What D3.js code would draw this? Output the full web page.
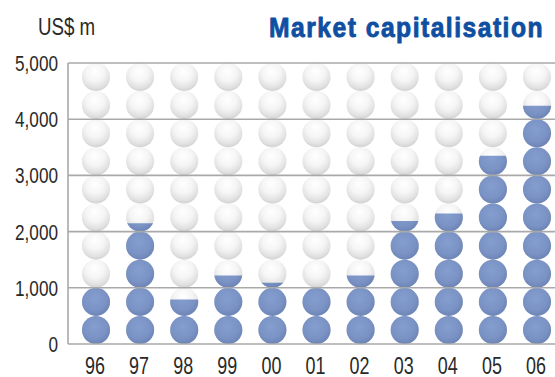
<!DOCTYPE html>
<html>
<head>
<meta charset="utf-8">
<script src="https://cdn.jsdelivr.net/npm/d3@7/dist/d3.min.js"></script>
<style>
  html, body { margin: 0; padding: 0; background: #fff; }
  svg { display: block; }
  text { font-family: "Liberation Sans", Arial, "Helvetica Neue", sans-serif; }
</style>
</head>
<body>
<svg id="chart" width="555" height="377"></svg>
<script>
// Market capitalisation, US$ m, by year
const years = ["96", "97", "98", "99", "00", "01", "02", "03", "04", "05", "06"];
const marketCap = [1000, 2150, 790, 1220, 1090, 1000, 1220, 2190, 2320, 3350, 4240];
const yTicks = [0, 1000, 2000, 3000, 4000, 5000];
const ballUnit = 500;   // each ball stands for US$ 500 m
const yMax = 5000;

const svg = d3.select("#chart");
const W = 555, H = 377;
const condense = 0.78;  // horizontal squeeze for a condensed face

const y = d3.scaleLinear().domain([0, yMax]).range([344, 63]);
const x = d3.scalePoint().domain(years).range([96, 537]);
const plotLeft = 68, plotRight = W;

const r = (y(0) - y(ballUnit)) / 2;
const nBalls = Math.round(yMax / ballUnit);

const defs = svg.append("defs");

const gGrey = defs.append("radialGradient").attr("id", "ballGrey")
  .attr("cx", "48%").attr("cy", "35%").attr("r", "65%").attr("fx", "46%").attr("fy", "30%");
gGrey.append("stop").attr("offset", "0%").attr("stop-color", "#ffffff");
gGrey.append("stop").attr("offset", "50%").attr("stop-color", "#f5f5f5");
gGrey.append("stop").attr("offset", "82%").attr("stop-color", "#e2e2e2");
gGrey.append("stop").attr("offset", "100%").attr("stop-color", "#d2d2d2");

const gBlue = defs.append("radialGradient").attr("id", "ballBlue")
  .attr("cx", "45%").attr("cy", "38%").attr("r", "65%");
gBlue.append("stop").attr("offset", "0%").attr("stop-color", "#849ecf");
gBlue.append("stop").attr("offset", "65%").attr("stop-color", "#7a93c4");
gBlue.append("stop").attr("offset", "100%").attr("stop-color", "#6a83b4");

// one clip per column: the blue fill rises to that year's value
years.forEach((yr, i) => {
  defs.append("clipPath").attr("id", "clip" + i)
    .append("rect")
    .attr("x", x(yr) - r - 2)
    .attr("width", 2 * r + 4)
    .attr("y", y(marketCap[i]))
    .attr("height", y(0) - y(marketCap[i]) + 2);
});

const slots = d3.range(nBalls).map(k => ballUnit * k + ballUnit / 2);

const cols = svg.append("g").selectAll("g.col")
  .data(years.map((yr, i) => ({ yr, v: marketCap[i], i })))
  .join("g").attr("class", "col");

// full stack of grey balls
cols.append("g").selectAll("ellipse")
  .data(d => slots.map(s => ({ s, yr: d.yr })))
  .join("ellipse")
  .attr("cx", d => x(d.yr))
  .attr("cy", d => y(d.s))
  .attr("rx", r).attr("ry", r)
  .attr("fill", "url(#ballGrey)");

// blue balls cut off at the value
cols.append("g")
  .attr("clip-path", d => `url(#clip${d.i})`)
  .selectAll("ellipse")
  .data(d => slots.filter(s => s - ballUnit / 2 < d.v).map(s => ({ s, yr: d.yr })))
  .join("ellipse")
  .attr("cx", d => x(d.yr))
  .attr("cy", d => y(d.s))
  .attr("rx", r).attr("ry", r)
  .attr("fill", "url(#ballBlue)");

// gridlines and axis frame
svg.append("g").selectAll("line.grid")
  .data(yTicks)
  .join("line")
  .attr("x1", plotLeft).attr("x2", plotRight)
  .attr("y1", d => y(d)).attr("y2", d => y(d))
  .attr("stroke", "#a9a9a9").attr("stroke-width", 1.6);

svg.append("line")
  .attr("x1", plotLeft).attr("x2", plotLeft)
  .attr("y1", y(yMax)).attr("y2", y(0))
  .attr("stroke", "#a9a9a9").attr("stroke-width", 1.6);

// condensed text placed at (tx, ty)
function label(parent, tx, ty, str, opts) {
  const g = parent.append("g")
    .attr("transform", `translate(${tx},${ty}) scale(${opts.scale || condense},1)`);
  const t = g.append("text")
    .attr("x", 0).attr("y", 0)
    .attr("text-anchor", opts.anchor || "start")
    .attr("font-size", opts.size)
    .attr("font-weight", opts.weight || "normal")
    .attr("fill", opts.fill || "#222")
    .text(str);
  if (opts.dy) t.attr("dy", opts.dy);
  if (opts.spacing) t.attr("letter-spacing", opts.spacing);
  if (opts.stroke) t.attr("stroke", opts.fill).attr("stroke-width", opts.stroke)
    .attr("stroke-linejoin", "round");
  return t;
}

// y axis labels
const fmt = d3.format(",");
const yLab = svg.append("g");
yTicks.forEach(d => label(yLab, 58, y(d), fmt(d), { size: 22, anchor: "end", dy: "0.36em", fill: "#2a2a2a" }));

// x axis labels
const xLab = svg.append("g");
years.forEach(d => label(xLab, x(d) - 1, 374, d, { size: 23, anchor: "middle", fill: "#2a2a2a" }));

// unit label
label(svg, 38, 35, "US$ m", { size: 24, fill: "#2a2a2a" });

// title
label(svg, 269, 37, "Market capitalisation",
  { size: 28, weight: "bold", fill: "#0f4fa2", spacing: 1.7, scale: 0.88, stroke: 0.9 });
</script>
</body>
</html>
